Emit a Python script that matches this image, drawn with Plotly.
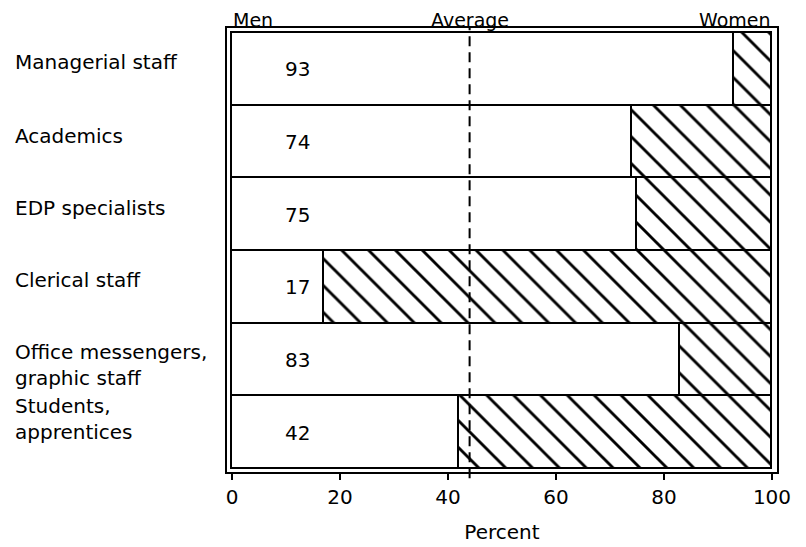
import plotly.graph_objects as go

categories = ["Managerial staff", "Academics", "EDP specialists", "Clerical staff",
              "Office messengers,<br>graphic staff", "Students,<br>apprentices"]
men = [93, 74, 75, 17, 83, 42]
women = [100 - m for m in men]
average = 44
tick_vals = [0, 20, 40, 60, 80, 100]

FONT = "DejaVu Sans"
FS = 20
fig = go.Figure()
fig.add_trace(go.Bar(
    y=categories, x=men, orientation="h", name="Men",
    marker=dict(color="white", line=dict(color="black", width=1.8)),
    hoverinfo="skip"))
fig.add_trace(go.Bar(
    y=categories, x=women, orientation="h", name="Women",
    marker=dict(color="white", line=dict(color="black", width=1.8),
                pattern=dict(shape="\\", fgcolor="#000000", bgcolor="white",
                             fgopacity=1, fillmode="replace",
                             size=19, solidity=0.15)),
    hoverinfo="skip"))

# category labels, left aligned
shifts = [7, 6, 7, 7, -5, 14]
for c, s in zip(categories, shifts):
    fig.add_annotation(x=-0.39, xref="paper", y=c, yref="y", text=c,
                       showarrow=False, xanchor="left", align="left", yshift=s,
                       font=dict(family=FONT, size=FS, color="black"))
# men values
for c, m in zip(categories, men):
    fig.add_annotation(x=12.2, y=c, text=str(m), showarrow=False,
                       font=dict(family=FONT, size=FS, color="black"))

# top labels
for xv, txt, anc in [(0, "Men", "left"), (average, "Average", "center"), (100, "Women", "right")]:
    fig.add_annotation(x=xv, y=1, xref="x", yref="paper", text=txt, showarrow=False,
                       xanchor=anc, yanchor="bottom", yshift=-4, borderpad=0,
                       font=dict(family=FONT, size=19, color="black"))

fig.add_shape(type="line", x0=average, x1=average, xref="x", y0=-0.014, y1=1, yref="paper",
              line=dict(color="black", width=2, dash="10px,6px"))

fig.update_layout(
    barmode="stack", bargap=0, showlegend=False,
    width=798, height=539, plot_bgcolor="white", paper_bgcolor="white",
    margin=dict(l=219, r=29, t=20, b=75),
    font=dict(family=FONT, size=FS, color="black"),
    xaxis=dict(range=[-0.93, 100.93], tickvals=tick_vals, ticks="outside", ticklen=6,
               tickwidth=1.5, tickcolor="black", showgrid=False, zeroline=False,
               showline=True, mirror=True, linecolor="black", linewidth=2,
               automargin=False,
               title=dict(text="Percent", standoff=17, font=dict(family=FONT, size=FS)),
               tickfont=dict(family=FONT, size=FS)),
    yaxis=dict(categoryorder="array", categoryarray=categories, range=[5.54, -0.57],
               showticklabels=False, showgrid=False, zeroline=False, ticks="",
               automargin=False,
               showline=True, mirror=True, linecolor="black", linewidth=2),
)
fig.write_html("out.html")
